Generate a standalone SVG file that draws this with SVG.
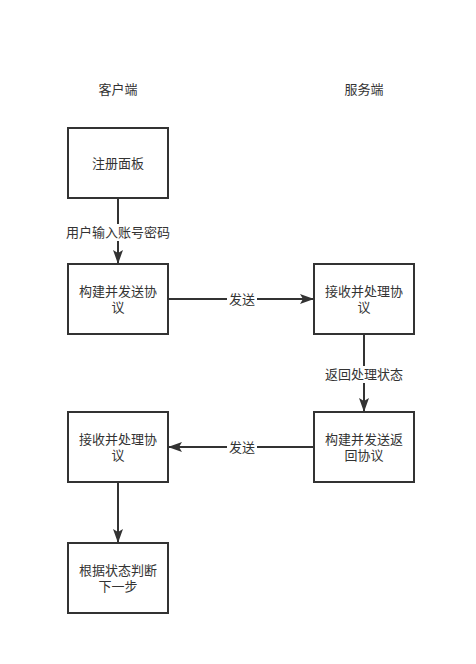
<svg xmlns="http://www.w3.org/2000/svg" width="476" height="664" viewBox="0 0 476 664">
<style>
.box{fill:#fff;stroke:#333;stroke-width:2}
.t{font-family:"Liberation Sans","Noto Sans CJK SC",sans-serif;font-size:13px;fill:#333;text-anchor:middle}
.e{stroke:#333;stroke-width:2;fill:none}
.lbl{fill:#fff}
</style>
<defs>
<marker id="ah" viewBox="0 0 14 10" refX="13" refY="5" markerWidth="7" markerHeight="5" orient="auto" markerUnits="strokeWidth">
<path d="M0,0 L14,5 L0,10 L3,5 Z" fill="#333"/>
</marker>
</defs>
<rect width="476" height="664" fill="#fff"/>
<text class="t" x="118" y="93.5">客户端</text>
<text class="t" x="364" y="93.5">服务端</text>
<g id="connectors">
<line class="e" x1="118" y1="198" x2="118" y2="263" marker-end="url(#ah)"/>
<rect class="lbl" x="65" y="224" width="106" height="17"/>
<text class="t" x="118" y="236.5">用户输入账号密码</text>
<line class="e" x1="168" y1="299" x2="313" y2="299" marker-end="url(#ah)"/>
<rect class="lbl" x="227" y="291" width="30" height="17"/>
<text class="t" x="242" y="303.5">发送</text>
<line class="e" x1="364" y1="334" x2="364" y2="411" marker-end="url(#ah)"/>
<rect class="lbl" x="324" y="366" width="80" height="17"/>
<text class="t" x="364" y="378.5">返回处理状态</text>
<line class="e" x1="314" y1="447" x2="169" y2="447" marker-end="url(#ah)"/>
<rect class="lbl" x="227" y="439" width="30" height="17"/>
<text class="t" x="242" y="451.5">发送</text>
<line class="e" x1="118" y1="482" x2="118" y2="542" marker-end="url(#ah)"/>
</g>
<g id="n1"><rect class="box" x="68" y="128" width="100" height="70"/><text class="t" x="118" y="167.5">注册面板</text></g>
<g id="n2"><rect class="box" x="68" y="264" width="100" height="70"/><text class="t" x="118" y="295.5">构建并发送协<tspan x="118" dy="16">议</tspan></text></g>
<g id="n3"><rect class="box" x="314" y="264" width="100" height="70"/><text class="t" x="364" y="295.5">接收并处理协<tspan x="364" dy="16">议</tspan></text></g>
<g id="n4"><rect class="box" x="314" y="412" width="100" height="70"/><text class="t" x="364" y="443.5">构建并发送返<tspan x="364" dy="16">回协议</tspan></text></g>
<g id="n5"><rect class="box" x="68" y="412" width="100" height="70"/><text class="t" x="118" y="443.5">接收并处理协<tspan x="118" dy="16">议</tspan></text></g>
<g id="n6"><rect class="box" x="68" y="543" width="100" height="70"/><text class="t" x="118" y="574.5">根据状态判断<tspan x="118" dy="16">下一步</tspan></text></g>
</svg>
